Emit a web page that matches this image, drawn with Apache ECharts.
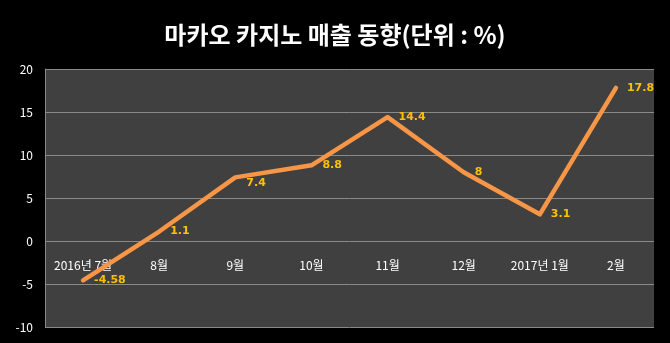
<!DOCTYPE html>
<html>
<head>
<meta charset="utf-8">
<script src="https://cdn.jsdelivr.net/npm/echarts@6/dist/echarts.min.js"></script>
<style>
  html, body { margin: 0; padding: 0; background: #000; }
  #chart { width: 670px; height: 343px; }
</style>
</head>
<body>
<div id="chart"></div>
<script>
// Monthly change in Macau casino revenue (%)
const months = ['2016년 7월', '8월', '9월', '10월', '11월', '12월', '2017년 1월', '2월'];
const revenueChange = [-4.58, 1.1, 7.4, 8.8, 14.4, 8, 3.1, 17.8];
const yTicks = { min: -10, max: 20, step: 5 };

const chartHeight = 343;
const gridTop = 69, gridBottom = 16;
// Category labels sit on the zero line: lift the x axis from the grid bottom to y = 0
const plotHeight = chartHeight - gridTop - gridBottom;
const zeroLift = plotHeight * (0 - yTicks.min) / (yTicks.max - yTicks.min);

// Push the 9월 value label below the line so it does not sit on the stroke
const labelNudgeY = { 2: 6 };

const chart = echarts.init(document.getElementById('chart'));
const baseFont = '"Noto Sans CJK KR", "Noto Sans", sans-serif';

chart.setOption({
  backgroundColor: '#000000',
  animation: false,
  title: {
    text: '마카오 카지노 매출 동향(단위 : %)',
    left: 'center',
    top: 18,
    textStyle: { color: '#ffffff', fontSize: 24, fontWeight: 'bold', fontFamily: baseFont }
  },
  grid: {
    left: 45, right: 16, top: gridTop, bottom: gridBottom,
    containLabel: false,
    outerBoundsMode: 'none',
    show: true, backgroundColor: '#404040', borderWidth: 0
  },
  xAxis: {
    type: 'category',
    data: months,
    boundaryGap: true,
    offset: -zeroLift,
    axisLine: { show: false, onZero: false },
    axisTick: { show: false },
    axisLabel: { color: '#ffffff', fontSize: 12, margin: 18, fontFamily: baseFont },
    splitLine: { show: false }
  },
  yAxis: {
    type: 'value',
    min: yTicks.min, max: yTicks.max, interval: yTicks.step,
    axisLine: { show: true, lineStyle: { color: '#8a8a8a', width: 1 } },
    axisTick: { show: false },
    axisLabel: { color: '#ffffff', fontSize: 12, margin: 12, fontFamily: baseFont },
    splitLine: { show: true, lineStyle: { color: '#8a8a8a', width: 1 } }
  },
  series: [{
    type: 'line',
    data: revenueChange,
    symbol: 'circle',
    symbolSize: 2,
    showSymbol: true,
    itemStyle: { color: 'rgba(0,0,0,0)', borderWidth: 0 },
    lineStyle: { color: '#F79646', width: 4.5, cap: 'round', join: 'round' },
    label: {
      show: true,
      position: 'right',
      distance: 10,
      offset: [0, 1],
      color: '#FFC000',
      fontSize: 11,
      fontWeight: 'bold',
      fontFamily: '"DejaVu Sans", sans-serif'
    },
    labelLayout: function (params) {
      return { hideOverlap: false, dy: labelNudgeY[params.dataIndex] || 0 };
    },
    z: 5
  }]
});
</script>
</body>
</html>
